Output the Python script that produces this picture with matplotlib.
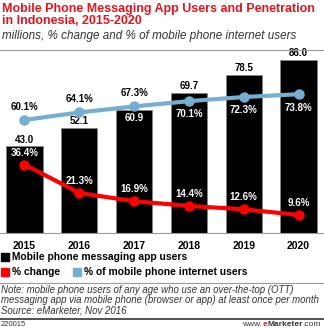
import matplotlib
matplotlib.use('Agg')
import matplotlib.pyplot as plt
from matplotlib.patches import Rectangle
import numpy as np

plt.rcParams['font.family'] = ['Liberation Sans', 'DejaVu Sans']

years = ['2015', '2016', '2017', '2018', '2019', '2020']
users = [43.0, 52.1, 60.9, 69.7, 78.5, 86.0]
pct_change = [36.4, 21.3, 16.9, 14.4, 12.6, 9.6]
pct_internet = [60.1, 64.1, 67.3, 70.1, 72.3, 73.8]

RED = '#ff0000'
BLUE = '#74aed0'
TITLE_RED = '#e3151e'

W, H = 324, 329
fig = plt.figure(figsize=(W / 100, H / 100), dpi=100)


def fy(py):
    # pixel from top -> figure fraction
    return 1 - py / H


def fx(px):
    return px / W


# axes: baseline at y=233px, top at 50px
ax = fig.add_axes([0, fy(233), 1, (233 - 50) / H])
x = np.arange(len(years))
ax.bar(x, users, width=0.66, color='black', edgecolor='#888888', linewidth=0.5, zorder=1)
ax.set_xlim(-0.447, 5.465)
ax.set_ylim(0, 90.8)
for s in ['top', 'left', 'right']:
    ax.spines[s].set_visible(False)
ax.spines['bottom'].set_color('#999999')
ax.spines['bottom'].set_linewidth(0.8)
ax.set_xticks([])
ax.set_yticks([])
ax.patch.set_alpha(0)

for i, v in enumerate(users):
    if i == 2:
        # line passes over this bar, label goes inside
        ax.annotate('%.1f' % v, (i, v), xytext=(0, -2), textcoords='offset points',
                    ha='center', va='top', fontsize=7, fontweight='bold', color='white')
    else:
        ax.annotate('%.1f' % v, (i, v), xytext=(0, 1.2), textcoords='offset points',
                    ha='center', va='bottom', fontsize=7, fontweight='bold')
    ax.annotate(years[i], (i, 0), xytext=(0, -6), textcoords='offset points',
                ha='center', va='top', fontsize=7.5, fontweight='bold')

ax2 = ax.twinx()
ax2.set_ylim(0, 97.3)
ax2.axis('off')
ax2.plot(x, pct_internet, color=BLUE, lw=3, marker='o', ms=6.5, zorder=3)
ax2.plot(x, pct_change, color=RED, lw=3, marker='o', ms=6.5, zorder=3)

for i, v in enumerate(pct_internet):
    if i < 3:
        ax2.annotate('%.1f%%' % v, (i, v), xytext=(0, 6), textcoords='offset points',
                     ha='center', va='bottom', fontsize=7, fontweight='bold', color='black')
    else:
        ax2.annotate('%.1f%%' % v, (i, v), xytext=(0, -6), textcoords='offset points',
                     ha='center', va='top', fontsize=7, fontweight='bold', color='white')
for i, v in enumerate(pct_change):
    ax2.annotate('%.1f%%' % v, (i, v), xytext=(0, 5), textcoords='offset points',
                 ha='center', va='bottom', fontsize=7, fontweight='bold', color='white')

# title block
fig.text(fx(2), fy(3), 'Mobile Phone Messaging App Users and Penetration\nin Indonesia, 2015-2020',
         ha='left', va='top', fontsize=9.0, fontweight='bold', color=TITLE_RED, linespacing=1.0)
fig.text(fx(2), fy(30), 'millions, % change and % of mobile phone internet users',
         ha='left', va='top', fontsize=8.4, style='italic', color='#333333')
fig.add_artist(plt.Line2D([0, 1], [fy(49.5), fy(49.5)], color='#999999', lw=0.8))


# legend
def legend_item(px, py, color, label):
    fig.add_artist(Rectangle((fx(px), fy(py + 8)), 8 / W, 8 / H, color=color,
                             transform=fig.transFigure))
    fig.text(fx(px + 11), fy(py + 4), label, ha='left', va='center',
             fontsize=7.4, fontweight='bold')


legend_item(1, 253, 'black', 'Mobile phone messaging app users')
legend_item(1, 268, RED, '% change')
legend_item(73, 268, BLUE, '% of mobile phone internet users')

fig.add_artist(plt.Line2D([0, 1], [fy(283), fy(283)], color='#999999', lw=0.8))
fig.text(fx(1), fy(285), 'Note: mobile phone users of any age who use an over-the-top (OTT)\n'
         'messaging app via mobile phone (browser or app) at least once per month\n'
         'Source: eMarketer, Nov 2016',
         ha='left', va='top', fontsize=6.95, style='italic', color='#333333', linespacing=1.05)
fig.add_artist(plt.Line2D([0, 1], [fy(318.5), fy(318.5)], color='#333333', lw=1.2))
fig.text(fx(1), fy(324.5), '220015', ha='left', va='center', fontsize=5.5, color='#333333')

# footer url built right to left from pieces
renderer = fig.canvas.get_renderer()
pieces = [('.com', '#333333', 'normal'), ('Marketer', '#333333', 'bold'),
          ('e', TITLE_RED, 'bold'), ('www.', '#333333', 'normal')]
right = 321
for txt, col, wt in pieces:
    t = fig.text(fx(right), fy(324.5), txt, ha='right', va='center', fontsize=6,
                 color=col, fontweight=wt)
    bb = t.get_window_extent(renderer=renderer)
    right -= bb.width

fig.savefig('out.png', dpi=100)
